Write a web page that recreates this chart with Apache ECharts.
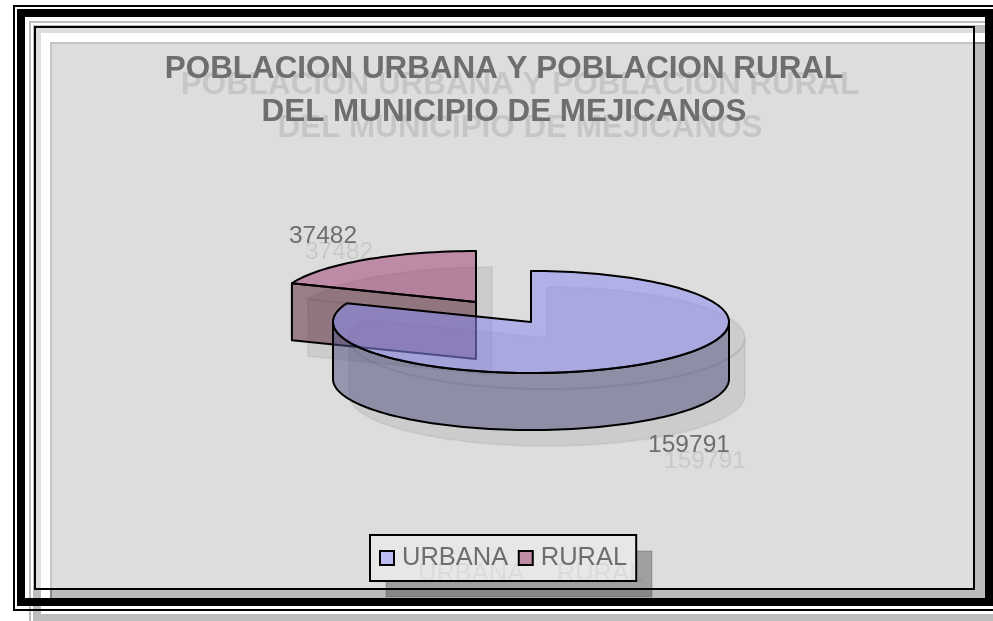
<!DOCTYPE html>
<html>
<head>
<meta charset="utf-8">
<style>html,body{margin:0;padding:0;background:#fff}#c{width:993px;height:621px}</style>
<script src="https://cdn.jsdelivr.net/npm/echarts@6/dist/echarts.min.js"></script>
</head>
<body>
<div id="c"></div>
<script>
const categories = ['URBANA', 'RURAL'];
const values = [159791, 37482];
const titleText = 'POBLACION URBANA Y POBLACION RURAL\nDEL MUNICIPIO DE MEJICANOS';

const total = values.reduce((a, b) => a + b, 0);
const CX = 531, CY = 322, RX = 198, RY = 51, H = 57;
const EXPLODE = [-55, -20];
const SH = 16;
const TEXT = '#6e6e6e';
const textShadowOf = (a) => ({textShadowColor: 'rgba(0,0,0,' + a + ')', textShadowOffsetX: SH, textShadowOffsetY: SH, textShadowBlur: 0.6});

const looks = [
  {top: 'rgba(140,140,240,0.55)', wall: 'rgba(80,80,130,0.5)', label: [689, 445]},
  {top: 'rgba(150,40,100,0.45)', wall: 'rgba(85,30,50,0.5)', label: [323, 236]}
];

function pt(c, deg, dy) {
  const a = deg * Math.PI / 180;
  return [c[0] + RX * Math.sin(a), c[1] - RY * Math.cos(a) + (dy || 0)];
}
function arc(c, from, to, dy) {
  const n = Math.max(2, Math.round(Math.abs(to - from) / 2));
  const out = [];
  for (let i = 0; i <= n; i++) out.push(pt(c, from + (to - from) * i / n, dy));
  return out;
}
function slicePolys(i) {
  const startShare = values.slice(0, i).reduce((a, b) => a + b, 0) / total;
  const from = startShare * 360;
  const to = from + values[i] / total * 360;
  const c = i === 0 ? [CX, CY] : [CX + EXPLODE[0], CY + EXPLODE[1]];
  const top = [c].concat(arc(c, from, to));
  let wall;
  if (i === 0) {
    const a = arc(c, 90, 270);
    wall = a.concat(arc(c, 270, 90, H));
  } else {
    const e = pt(c, from);
    wall = [e, c, [c[0], c[1] + H], [e[0], e[1] + H]];
  }
  return {top, wall};
}
function shift(p) { return p.map(q => [q[0] + SH, q[1] + SH]); }

function renderer(i) {
  return function () {
    const s = slicePolys(i), look = looks[i];
    const stroke = {stroke: '#000', lineWidth: 2, lineJoin: 'round'};
    const shadow = {fill: 'rgba(0,0,0,0.075)', stroke: 'rgba(0,0,0,0.05)', lineWidth: 2};
    const base = i === 0 ? 20 : 10;
    return {
      type: 'group',
      children: [
        {type: 'polygon', z2: 1, shape: {points: shift(s.wall)}, style: shadow},
        {type: 'polygon', z2: 1, shape: {points: shift(s.top)}, style: shadow},
        {type: 'polygon', z2: base, shape: {points: s.wall}, style: Object.assign({fill: look.wall}, stroke)},
        {type: 'polygon', z2: base + 1, shape: {points: s.top}, style: Object.assign({fill: look.top}, stroke)},
        {type: 'text', z2: 30, x: look.label[0], y: look.label[1], style: Object.assign({
          text: String(values[i]), fill: TEXT, font: '24.5px "Liberation Sans"',
          align: 'center', verticalAlign: 'middle'
        }, textShadowOf(0.09))}
      ]
    };
  };
}

function frame(x, y, w, h, lw, color) {
  return {type: 'rect', silent: true, shape: {x, y, width: w, height: h}, style: {fill: 'none', stroke: color, lineWidth: lw}};
}

const chart = echarts.init(document.getElementById('c'), null, {renderer: 'canvas'});
chart.setOption({
  animation: false,
  backgroundColor: '#fff',
  title: {
    text: titleText, left: 499, top: 43, textAlign: 'center',
    textStyle: Object.assign({
      color: TEXT, fontFamily: 'Liberation Sans', fontWeight: 'bold', fontSize: 31.4, lineHeight: 43
    }, textShadowOf(0.1))
  },
  legend: {
    left: 370, top: 535, orient: 'horizontal',
    data: categories.map((n, i) => ({name: n, icon: 'rect', itemStyle: {color: i === 0 ? '#bcbcf2' : '#bf8ca6', borderColor: '#000', borderWidth: 2}})),
    itemWidth: 14, itemHeight: 14, itemGap: 9.5,
    padding: [10, 9, 10, 9],
    backgroundColor: '#e7e7e7', borderColor: '#000', borderWidth: 2,
    textStyle: Object.assign({color: TEXT, fontFamily: 'Liberation Sans', fontSize: 25.5, padding: [6, 0, 0, 3]}, textShadowOf(0.05))
  },
  graphic: [{
    type: 'group', z: -10, silent: true,
    children: [
      {type: 'rect', shape: {x: 51, y: 43, width: 938, height: 561}, style: {fill: '#bbbbbb', stroke: '#888', lineWidth: 2}},
      frame(30, 22, 985, 604, 2, '#bdbdbd'),
      frame(37, 29, 968, 589, 8, '#bdbdbd'),
      {type: 'rect', shape: {x: 35, y: 27, width: 939, height: 562}, style: {fill: 'rgba(255,255,255,0.5)', stroke: '#000', lineWidth: 2}},
      frame(14, 6, 985, 604, 2, '#000'),
      frame(21, 13, 968, 589, 8, '#000'),
      {type: 'rect', shape: {x: 386, y: 551, width: 266, height: 46}, style: {fill: 'rgba(0,0,0,0.28)', stroke: 'rgba(0,0,0,0.1)', lineWidth: 2}}
    ]
  }],
  series: categories.map((n, i) => ({
    type: 'custom', name: n, coordinateSystem: 'none', silent: true,
    itemStyle: {color: i === 0 ? '#bcbcf2' : '#bf8ca6'},
    renderItem: renderer(i),
    data: [{name: n, value: values[i]}]
  }))
});
</script>
</body>
</html>
